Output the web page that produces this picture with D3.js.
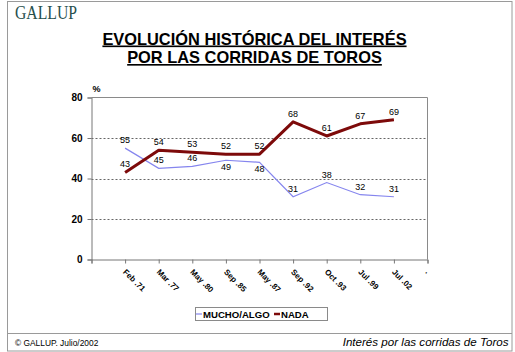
<!DOCTYPE html>
<html>
<head>
<meta charset="utf-8">
<script src="https://cdn.jsdelivr.net/npm/d3@7"></script>
<style>
  html, body { margin: 0; padding: 0; background: #fff; }
  svg { display: block; }
  text { font-family: Arial, "Liberation Sans", sans-serif; }
</style>
</head>
<body>
<svg id="chart" width="515" height="352"></svg>
<script>
// ---- data ----
const categories = ["", "Feb .71", "Mar .77", "May .80", "Sep .85", "May .87", "Sep .92", "Oct .93", "Jul .99", "Jul .02", "."];
const muchoAlgo = [55, 45, 46, 49, 48, 31, 38, 32, 31];
const nada = [43, 54, 53, 52, 52, 68, 61, 67, 69];
const yTicks = [0, 20, 40, 60, 80];
const seriesNames = ["MUCHO/ALGO", "NADA"];
const titleLines = ["EVOLUCIÓN HISTÓRICA DEL INTERÉS", "POR LAS CORRIDAS DE TOROS"];

const svg = d3.select("#chart");

// frame
svg.append("rect").attr("x", 7.5).attr("y", 1.5).attr("width", 504.5).attr("height", 349.5)
  .attr("fill", "none").attr("stroke", "#9a9a9a").attr("stroke-width", 1);
svg.append("line").attr("x1", 7.5).attr("x2", 512).attr("y1", 333.5).attr("y2", 333.5)
  .attr("stroke", "#9a9a9a");

// logo
svg.append("text").attr("x", 15).attr("y", 18.5)
  .style("font-family", "'Liberation Serif', 'Times New Roman', serif")
  .attr("font-size", 18).attr("fill", "#27504d")
  .attr("textLength", 62).attr("lengthAdjust", "spacingAndGlyphs")
  .text("GALLUP");

// title
svg.selectAll("text.title").data(titleLines).join("text")
  .attr("class", "title")
  .attr("x", 254.5).attr("y", (d, i) => 44.5 + i * 18.5)
  .attr("text-anchor", "middle").attr("font-size", 16.4).attr("font-weight", "bold")
  .attr("text-decoration", "underline").attr("fill", "#000")
  .text(d => d);

// scales
const x = d3.scalePoint().domain(d3.range(categories.length)).range([91.5, 427.5]);
const y = d3.scaleLinear().domain([0, 80]).range([259.5, 97.5]);

// gridlines
svg.append("g").selectAll("line").data(yTicks.filter(t => t > 0 && t < 80)).join("line")
  .attr("x1", x(0)).attr("x2", x(categories.length - 1))
  .attr("y1", d => Math.round(y(d)) + 0.5).attr("y2", d => Math.round(y(d)) + 0.5)
  .attr("stroke", "#666").attr("stroke-dasharray", "2,2");

// plot frame top/right
svg.append("line").attr("x1", x(0)).attr("x2", x(categories.length - 1))
  .attr("y1", y(80)).attr("y2", y(80)).attr("stroke", "#8a8a8a");
svg.append("line").attr("x1", x(categories.length - 1)).attr("x2", x(categories.length - 1))
  .attr("y1", y(80)).attr("y2", y(0)).attr("stroke", "#8a8a8a");

// y axis
const yAxis = svg.append("g").attr("transform", `translate(${x(0)},0)`)
  .call(d3.axisLeft(y).tickValues(yTicks).tickSize(4).tickPadding(5));
yAxis.select(".domain").attr("stroke", "#777");
yAxis.selectAll(".tick line").attr("stroke", "#777");
yAxis.selectAll("text").attr("font-size", 10).attr("font-weight", "bold")
  .attr("font-family", "Arial, 'Liberation Sans', sans-serif").attr("fill", "#000");

// x axis
const xAxis = svg.append("g").attr("transform", `translate(0,${y(0)})`)
  .call(d3.axisBottom(x).tickFormat(i => categories[i]).tickSize(4));
xAxis.select(".domain").attr("stroke", "#777");
xAxis.selectAll(".tick line").attr("stroke", "#777");
xAxis.selectAll("text")
  .attr("x", 0).attr("y", 0).attr("dy", 0)
  .attr("text-anchor", "start")
  .attr("transform", "translate(-3,13) rotate(45)")
  .attr("font-size", 8).attr("font-weight", "bold")
  .attr("font-family", "Arial, 'Liberation Sans', sans-serif").attr("fill", "#000");

// percent label
svg.append("text").attr("x", 92.5).attr("y", 91.5).attr("font-size", 9).attr("font-weight", "bold")
  .text("%");

// lines
const line = d3.line().x((d, i) => x(i + 1)).y(d => y(d));
svg.append("path").datum(muchoAlgo).attr("d", line)
  .attr("fill", "none").attr("stroke", "#8585ee").attr("stroke-width", 1.2);
svg.append("path").datum(nada).attr("d", line)
  .attr("fill", "none").attr("stroke", "#7d0a0a").attr("stroke-width", 3)
  .attr("stroke-linejoin", "round");

// data labels
function labels(data, belowFn) {
  svg.append("g").selectAll("text").data(data).join("text")
    .attr("x", (d, i) => x(i + 1))
    .attr("y", (d, i) => belowFn(d, i) ? y(d) + 9.5 : y(d) - 5)
    .attr("text-anchor", "middle").attr("font-size", 9).attr("fill", "#000")
    .text(d => d);
}
labels(muchoAlgo, (d, i) => nada[i] > d && nada[i] - d < 5);
labels(nada, () => false);

// legend
const lg = svg.append("g");
lg.append("rect").attr("x", 195.5).attr("y", 307.5).attr("width", 132).attr("height", 13)
  .attr("fill", "#fff").attr("stroke", "#8a8a8a");
const legendItems = [
  {name: seriesNames[0], color: "#8585ee", w: 1.2, x0: 196},
  {name: seriesNames[1], color: "#7d0a0a", w: 2.5, x0: 274}
];
legendItems.forEach(it => {
  lg.append("line").attr("x1", it.x0).attr("x2", it.x0 + 6).attr("y1", 314).attr("y2", 314)
    .attr("stroke", it.color).attr("stroke-width", it.w);
  lg.append("text").attr("x", it.x0 + 7).attr("y", 317.5).attr("font-size", 9.6)
    .attr("font-weight", "bold").text(it.name);
});

// footer
svg.append("text").attr("x", 15).attr("y", 345.5).attr("font-size", 8.4).text("© GALLUP. Julio/2002");
svg.append("text").attr("x", 508.5).attr("y", 346).attr("text-anchor", "end")
  .attr("font-size", 11.6).attr("font-style", "italic").text("Interés por las corridas de Toros");
</script>
</body>
</html>
